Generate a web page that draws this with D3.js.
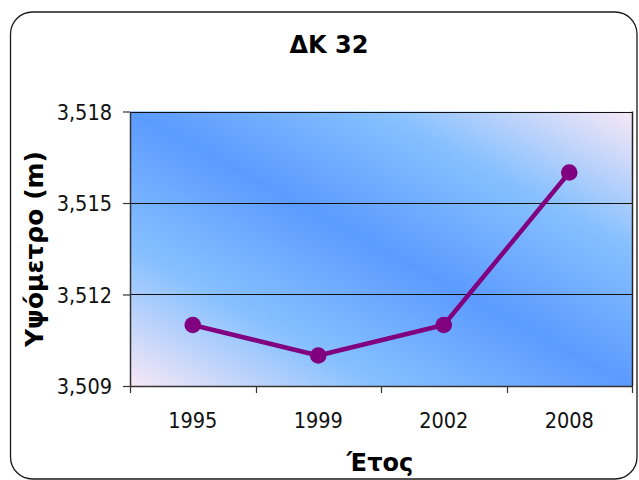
<!DOCTYPE html>
<html>
<head>
<meta charset="utf-8">
<script src="https://cdn.jsdelivr.net/npm/d3@7"></script>
<style>
  body { margin: 0; background: #fff; }
  svg { display: block; }
</style>
</head>
<body>
<svg id="chart" width="639" height="480"></svg>
<script>
// Survey point elevation by year
const years = ["1995", "1999", "2002", "2008"];
const elevation = [3.511, 3.510, 3.511, 3.516];
const yTicks = [3.509, 3.512, 3.515, 3.518];
const chartTitle = "ΔΚ 32";
const xTitle = "Έτος";
const yTitle = "Υψόμετρο (m)";

const svg = d3.select("#chart");
const plot = { left: 130, right: 632, top: 111.5, bottom: 386 };

// Greek number formatting: comma as decimal separator
const grLocale = d3.formatLocale({ decimal: ",", thousands: ".", grouping: [3], currency: ["", " €"] });
const fmt = grLocale.format(".3f");

const tickFont = "'DejaVu Sans Condensed', 'DejaVu Sans', sans-serif";
const titleFont = "'DejaVu Sans', Verdana, sans-serif";

// Outer chart frame with rounded corners
svg.append("rect")
  .attr("x", 10.5).attr("y", 12)
  .attr("width", 626.5).attr("height", 467)
  .attr("rx", 22).attr("ry", 22)
  .attr("fill", "#fff")
  .attr("stroke", "#1a1a1a")
  .attr("stroke-width", 1.3);

// Plot background gradient
const defs = svg.append("defs");
const grad = defs.append("linearGradient")
  .attr("id", "plotBg")
  .attr("x1", 0).attr("y1", 1).attr("x2", 1).attr("y2", 0);
[
  [0, "#f8e8f6"],
  [0.25, "#86c0ff"],
  [0.5, "#5c9bff"],
  [0.75, "#86c0ff"],
  [1, "#f8e8f6"]
].forEach(([o, c]) => grad.append("stop").attr("offset", o).attr("stop-color", c));

const x = d3.scaleBand().domain(years).range([plot.left, plot.right]).padding(0);
const y = d3.scaleLinear().domain([yTicks[0], yTicks[yTicks.length - 1]]).range([plot.bottom, plot.top]);

svg.append("rect")
  .attr("x", plot.left).attr("y", plot.top)
  .attr("width", plot.right - plot.left)
  .attr("height", plot.bottom - plot.top)
  .attr("fill", "url(#plotBg)");

// Horizontal gridlines
svg.append("g")
  .selectAll("line")
  .data(yTicks.slice(1))
  .join("line")
  .attr("x1", plot.left).attr("x2", plot.right)
  .attr("y1", d => Math.round(y(d)) + 0.5)
  .attr("y2", d => Math.round(y(d)) + 0.5)
  .attr("stroke", "#111")
  .attr("stroke-width", 1);

// Right edge of plot area
svg.append("line")
  .attr("x1", plot.right + 0.5).attr("x2", plot.right + 0.5)
  .attr("y1", plot.top).attr("y2", plot.bottom)
  .attr("stroke", "#222").attr("stroke-width", 1.5);

// Y axis
const yAxis = svg.append("g")
  .attr("transform", `translate(${plot.left},0)`)
  .call(d3.axisLeft(y).tickValues(yTicks).tickFormat(fmt).tickSize(7).tickPadding(11).tickSizeOuter(0));
yAxis.select(".domain").attr("stroke", "#333").attr("stroke-width", 1.5);
yAxis.selectAll(".tick line").attr("stroke", "#333").attr("stroke-width", 1.2);
yAxis.selectAll(".tick text")
  .attr("font-family", tickFont)
  .attr("font-size", 21.5)
  .attr("fill", "#111")
  .attr("dy", "0.36em");

// X axis: labels centred in each band, tick marks on band boundaries
const xAxis = svg.append("g")
  .attr("transform", `translate(0,${plot.bottom})`)
  .call(d3.axisBottom(x).tickSize(0).tickSizeOuter(0));
xAxis.select(".domain").attr("stroke", "#333").attr("stroke-width", 1.5);
xAxis.selectAll(".tick text")
  .attr("font-family", tickFont)
  .attr("font-size", 21.5)
  .attr("fill", "#111")
  .attr("y", 42)
  .attr("dy", 0);

const boundaries = years.map(d => x(d)).concat([plot.right]);
xAxis.append("g")
  .selectAll("line")
  .data(boundaries)
  .join("line")
  .attr("x1", d => Math.round(d) + 0.5).attr("x2", d => Math.round(d) + 0.5)
  .attr("y1", 0).attr("y2", 7)
  .attr("stroke", "#333").attr("stroke-width", 1.2);

// Data line and markers
const cx = (d, i) => x(years[i]) + x.bandwidth() / 2;
const line = d3.line()
  .x((d, i) => cx(d, i))
  .y(d => y(d));

svg.append("path")
  .datum(elevation)
  .attr("d", line)
  .attr("fill", "none")
  .attr("stroke", "#800080")
  .attr("stroke-width", 4.5)
  .attr("stroke-linejoin", "round");

svg.append("g")
  .selectAll("circle")
  .data(elevation)
  .join("circle")
  .attr("cx", (d, i) => cx(d, i))
  .attr("cy", d => y(d))
  .attr("r", 8.3)
  .attr("fill", "#800080");

// Titles
svg.append("text")
  .attr("x", 329).attr("y", 53)
  .attr("text-anchor", "middle")
  .attr("font-family", titleFont)
  .attr("font-weight", "bold")
  .attr("font-size", 24)
  .attr("fill", "#000")
  .text(chartTitle);

svg.append("text")
  .attr("x", 380).attr("y", 471)
  .attr("text-anchor", "middle")
  .attr("font-family", titleFont)
  .attr("font-weight", "bold")
  .attr("font-size", 24)
  .attr("fill", "#000")
  .text(xTitle);

svg.append("text")
  .attr("transform", "translate(43,249) rotate(-90)")
  .attr("text-anchor", "middle")
  .attr("font-family", titleFont)
  .attr("font-weight", "bold")
  .attr("font-size", 25)
  .attr("fill", "#000")
  .text(yTitle);
</script>
</body>
</html>
